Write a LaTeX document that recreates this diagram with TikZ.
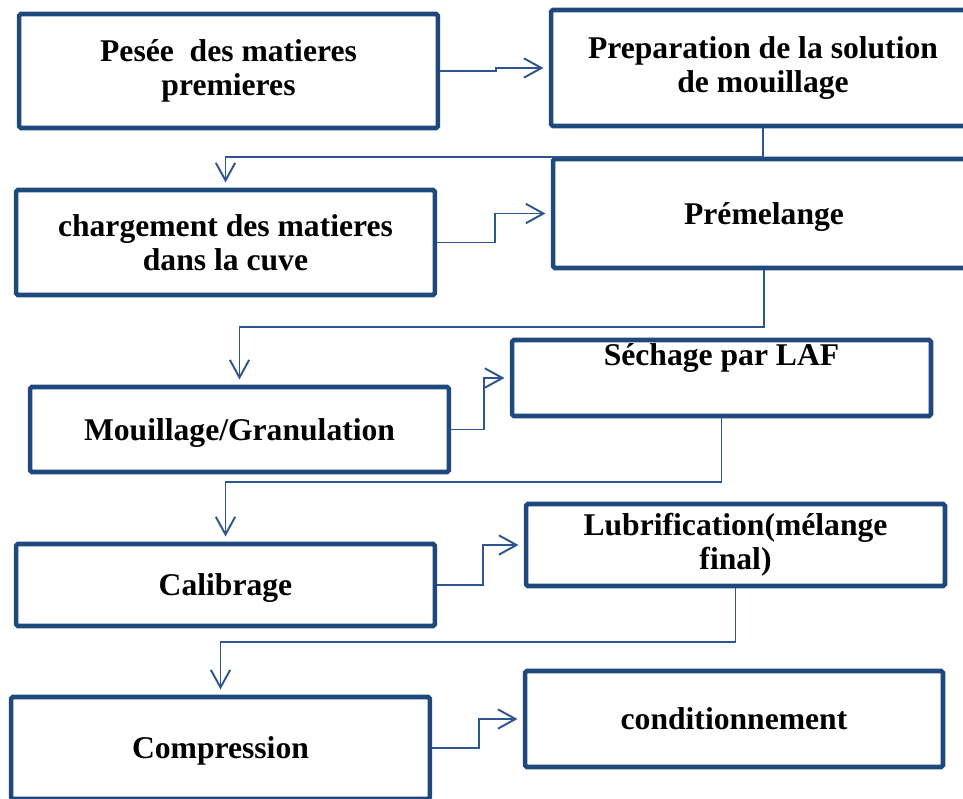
\documentclass[tikz,border=0pt]{standalone}
\usepackage{fontspec}
\setmainfont{Liberation Serif}
\usetikzlibrary{arrows.meta}
\definecolor{boxblue}{RGB}{31,73,125}
\definecolor{lineblue}{RGB}{46,84,145}
\begin{document}
\begin{tikzpicture}[x=0.02cm,y=-0.02cm,
    procbox/.style={draw=boxblue,line width=2.6pt,rounded corners=1pt,align=center,
      inner sep=0pt,minimum width=8.38cm},
    proctxt/.style={align=center,font=\bfseries\fontsize{18}{19.3}\selectfont},
    flow/.style={draw=lineblue,line width=1.1pt,
      -{Straight Barb[length=10pt,width=11pt]},shorten >=3pt}]
  \clip (0,0) rectangle (963,798);
  \node[procbox,proctxt,minimum height=2.28cm] (pesee) at (228.5,71)
    {Pesée\ \ des matieres\\premieres};
  \node[procbox,proctxt,minimum width=8.48cm,minimum height=2.32cm] (prep) at (763,68)
    {Preparation de la solution\\de mouillage};
  \node[procbox,proctxt,minimum height=2.10cm] (charg) at (225.5,242.5)
    {chargement des matieres\\dans la cuve};
  \node[procbox,proctxt,minimum width=8.44cm,minimum height=2.18cm,text height=16pt] (prem) at (764,213.5)
    {Prémelange};
  \node[procbox,proctxt,minimum height=1.70cm,text height=16pt] (mouil) at (239.5,429.5)
    {Mouillage/Granulation};
  \node[procbox,minimum height=1.52cm] (sech) at (721.5,378) {};
  \node[proctxt] (sechtxt) at (721.5,358) {Séchage par LAF};
  \node[procbox,proctxt,minimum height=1.64cm,text height=16pt] (calib) at (225.5,585)
    {Calibrage};
  \node[procbox,proctxt,minimum height=1.64cm] (lubr) at (735.5,545)
    {Lubrification(mélange\\final)};
  \node[procbox,proctxt,minimum height=2.04cm,text height=16pt] (comp) at (220.5,748)
    {Compression};
  \node[procbox,proctxt,minimum width=8.36cm,minimum height=1.92cm] (cond) at (734,719)
    {conditionnement};
  \begin{scope}[flow]
    \draw (pesee.east) -- ++(56,0) |- (prep.west);
    \draw (prep.south) -- ++(0,29) -| (charg.north);
    \draw (charg.east) -- ++(58,0) |- (prem.west);
    \draw (prem.south) -- ++(0,57) -| (mouil.north);
    \draw (mouil.east) -- ++(33,0) |- (sech.west);
    \draw (sech.south) -- ++(0,64) -| (calib.north);
    \draw (calib.east) -- ++(46,0) |- (lubr.west);
    \draw (lubr.south) -- ++(0,54) -| (comp.north);
    \draw (comp.east) -- ++(47,0) |- (cond.west);
  \end{scope}
\end{tikzpicture}
\end{document}
